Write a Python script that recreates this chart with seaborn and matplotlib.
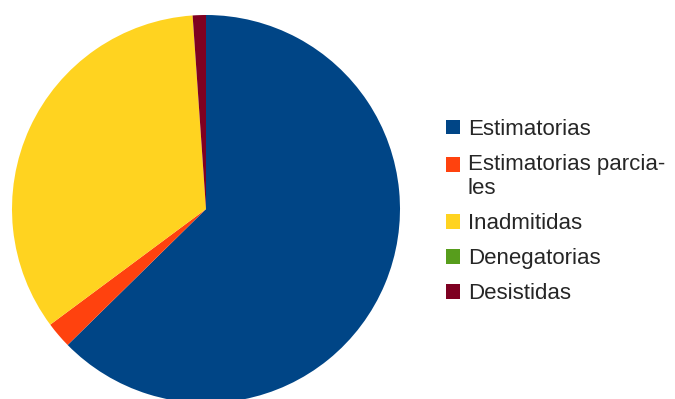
import matplotlib
matplotlib.use("Agg")
import matplotlib.pyplot as plt
import matplotlib.patches as mpatches
from matplotlib.legend_handler import HandlerPatch
import seaborn as sns

# Chart data
categories = ["Estimatorias", "Estimatorias parcia-\nles", "Inadmitidas", "Denegatorias", "Desistidas"]
values = [57, 2, 31, 0, 1]
colors = ["#004586", "#ff420e", "#ffd320", "#579d1c", "#7e0021"]

sns.set_theme(style="white")
plt.rcParams['font.family'] = ['Liberation Sans', 'DejaVu Sans']

fig = plt.figure(figsize=(6.75, 3.99), dpi=100)
# pie is centred at (206, 209) px with radius 194 px, bottom runs past the figure
ax = fig.add_axes([12 / 675, -4 / 399, 388 / 675, 388 / 399])
wedges, _ = ax.pie(values, colors=sns.color_palette(colors), startangle=90,
                   counterclock=False, radius=1,
                   wedgeprops=dict(linewidth=0))
ax.set_xlim(-1, 1)
ax.set_ylim(-1, 1)
ax.set_aspect("equal")
ax.axis("off")


# the wrapped label keeps its square next to the first line
def top_line_square(legend, orig_handle, xdescent, ydescent, width, height, fontsize):
    return mpatches.Rectangle((-xdescent, -ydescent + 9), width, height)


leg = fig.legend(wedges, categories, loc="upper left",
                 bbox_to_anchor=(446 / 675, 1 - 119 / 399),
                 frameon=False, fontsize=16, handlelength=0.63, handleheight=0.63,
                 handletextpad=0.35, labelspacing=0.63, borderaxespad=0, borderpad=0,
                 handler_map={wedges[1]: HandlerPatch(patch_func=top_line_square)})
for t in leg.get_texts():
    t.set_linespacing(1.2)

fig.savefig("out.png", dpi=100)
